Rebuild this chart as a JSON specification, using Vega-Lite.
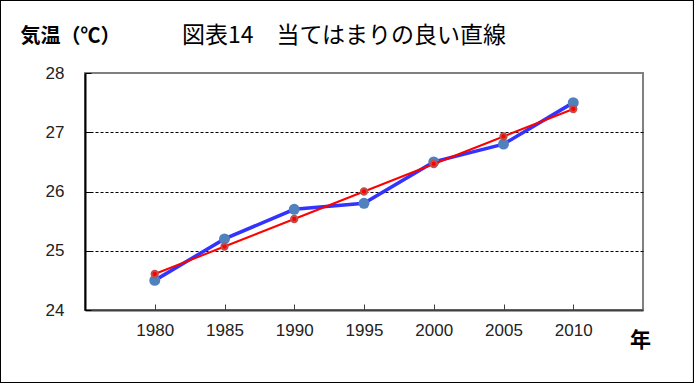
{
  "$schema": "https://vega.github.io/schema/vega-lite/v6.json",
  "autosize": "none",
  "width": 558,
  "height": 237,
  "padding": {"left": 85, "top": 73, "right": 51, "bottom": 73},
  "background": "white",
  "title": {
    "text": "図表14　当てはまりの良い直線",
    "anchor": "start",
    "frame": "group",
    "dx": 97,
    "offset": 0,
    "dy": 48,
    "font": "Noto Sans CJK JP",
    "fontSize": 23,
    "fontWeight": "normal",
    "color": "#000000"
  },
  "config": {
    "view": {"stroke": "#808080", "strokeWidth": 2},
    "axis": {
      "labelFont": "Liberation Sans",
      "labelColor": "#222222",
      "titleFont": "Noto Sans CJK JP",
      "titleColor": "#000000"
    }
  },
  "data": {
    "values": [
      {"year": 1980, "temp": 24.5, "fit": 24.607},
      {"year": 1985, "temp": 25.2, "fit": 25.071},
      {"year": 1990, "temp": 25.7, "fit": 25.536},
      {"year": 1995, "temp": 25.8, "fit": 26.0},
      {"year": 2000, "temp": 26.5, "fit": 26.464},
      {"year": 2005, "temp": 26.8, "fit": 26.929},
      {"year": 2010, "temp": 27.5, "fit": 27.393}
    ]
  },
  "encoding": {
    "x": {
      "field": "year",
      "type": "quantitative",
      "scale": {"domain": [1975, 2015], "nice": false, "zero": false},
      "axis": {
        "values": [1980, 1985, 1990, 1995, 2000, 2005, 2010],
        "format": "d",
        "grid": false,
        "domainColor": "#404040",
        "domainWidth": 2,
        "tickColor": "#404040",
        "tickWidth": 1,
        "tickSize": -6,
        "labelPadding": 18,
        "labelFontSize": 17,
        "title": "年",
        "titleFontSize": 21,
        "titleFontWeight": "bold",
        "titleX": 555,
        "titleY": 36,
        "titleAlign": "center",
        "titleBaseline": "alphabetic"
      }
    },
    "y": {
      "field": "temp",
      "type": "quantitative",
      "scale": {"domain": [24, 28], "nice": false, "zero": false},
      "axis": {
        "values": [24, 25, 26, 27, 28],
        "grid": true,
        "gridColor": "#000000",
        "gridDash": [3, 2],
        "gridWidth": 1,
        "gridOpacity": {"condition": {"test": "datum.value == 24 || datum.value == 28", "value": 0}, "value": 1},
        "domainColor": "#000000",
        "domainWidth": 2,
        "tickColor": "#000000",
        "tickWidth": 1,
        "tickSize": -6,
        "labelPadding": 27,
        "labelFontSize": 17,
        "title": "気温（℃）",
        "titleFontSize": 20,
        "titleFontWeight": "bold",
        "titleAngle": 0,
        "titleAlign": "left",
        "titleBaseline": "alphabetic",
        "titleX": -65,
        "titleY": -31
      }
    }
  },
  "layer": [
    {
      "mark": {"type": "rect", "fill": "transparent", "stroke": "#000000", "strokeWidth": 1, "clip": false},
      "encoding": {
        "x": {"datum": 1968.94, "type": "quantitative"},
        "x2": {"datum": 2018.62},
        "y": {"datum": 29.224, "type": "quantitative"},
        "y2": {"datum": 22.776}
      }
    },
    {
      "mark": {"type": "line", "color": "#3333ff", "strokeWidth": 3.5}
    },
    {
      "mark": {"type": "point", "filled": true, "color": "#4f81bd", "size": 120, "opacity": 1}
    },
    {
      "mark": {"type": "line", "color": "#ff0000", "strokeWidth": 2},
      "encoding": {"y": {"field": "fit", "type": "quantitative"}}
    },
    {
      "mark": {"type": "point", "filled": true, "fill": "#ff0000", "stroke": "#c0504d", "strokeWidth": 2, "size": 40, "opacity": 1},
      "encoding": {"y": {"field": "fit", "type": "quantitative"}}
    }
  ]
}
